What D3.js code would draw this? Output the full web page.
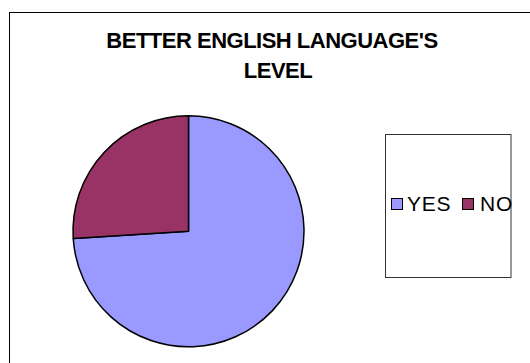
<html>
  <meta charset="utf-8" />
  <script src="https://d3js.org/d3.v7.min.js"></script>
  <style>
    body { margin: 0; background: #fff; }
    text { font-family: "Liberation Sans", Arial, sans-serif; }
  </style>
  <body>
    <svg width="530" height="363" id="pie"></svg>
    <script>
      // data
      const categories = ["YES", "NO"];
      const values = [74, 26];
      const colors = ["#9999FF", "#993366"];
      const titleLines = ["BETTER ENGLISH LANGUAGE'S", "LEVEL"];

      const svg = d3.select("#pie");

      // outer chart frame (runs off the right and bottom edge)
      svg
        .append("rect")
        .attr("x", 9.5)
        .attr("y", 12.5)
        .attr("width", 600)
        .attr("height", 400)
        .attr("fill", "#fff")
        .attr("stroke", "#000");

      // title
      svg
        .selectAll(".title")
        .data(titleLines)
        .enter()
        .append("text")
        .attr("class", "title")
        .attr("x", (d, i) => (i === 0 ? 272 : 278))
        .attr("y", (d, i) => 48 + i * 30)
        .attr("text-anchor", "middle")
        .attr("font-size", 22)
        .attr("font-weight", "bold")
        .attr("letter-spacing", -0.5)
        .text((d) => d);

      // pie
      const cx = 188.5,
        cy = 231.3,
        r = 115.5;

      const pie = d3.pie().sort(null).value((d) => d);
      const arc = d3.arc().innerRadius(0).outerRadius(r);

      const g = svg.append("g").attr("transform", `translate(${cx}, ${cy})`);

      g.selectAll("path")
        .data(pie(values))
        .enter()
        .append("path")
        .attr("d", arc)
        .attr("fill", (d, i) => colors[i])
        .attr("stroke", "#000")
        .attr("stroke-width", 1.5)
        .attr("stroke-linejoin", "round");

      // legend box
      const legend = svg.append("g");
      legend
        .append("rect")
        .attr("x", 385.5)
        .attr("y", 134.5)
        .attr("width", 125.5)
        .attr("height", 143)
        .attr("fill", "#fff")
        .attr("stroke", "#333");

      const swatchX = [391, 462];
      const labelX = [407, 480];

      legend
        .selectAll(".swatch")
        .data(categories)
        .enter()
        .append("rect")
        .attr("class", "swatch")
        .attr("x", (d, i) => swatchX[i] + 0.5)
        .attr("y", 198.5)
        .attr("width", 11)
        .attr("height", 11)
        .attr("fill", (d, i) => colors[i])
        .attr("stroke", "#000");

      legend
        .selectAll(".label")
        .data(categories)
        .enter()
        .append("text")
        .attr("class", "label")
        .attr("x", (d, i) => labelX[i])
        .attr("y", 211)
        .attr("font-size", 21)
        .attr("letter-spacing", 0.8)
        .text((d) => d);
    </script>
  </body>
</html>
